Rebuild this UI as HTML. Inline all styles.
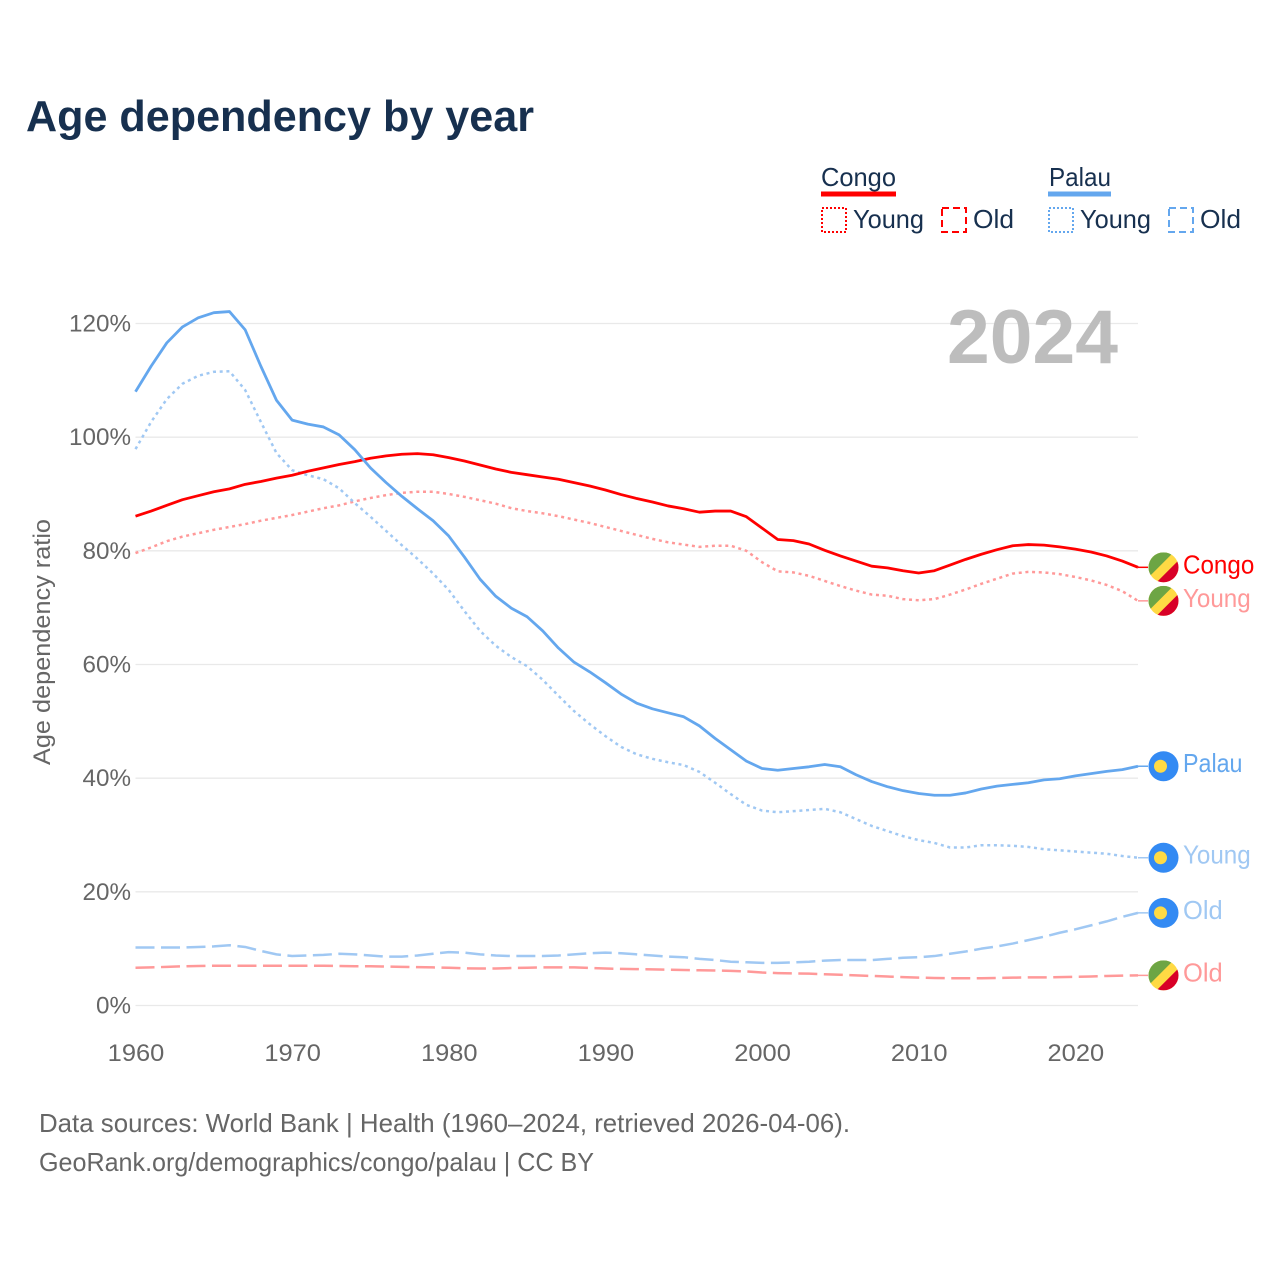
<!DOCTYPE html>
<html lang="en">
<head>
<meta charset="utf-8">
<title>Age dependency by year</title>
<style>
html,body{margin:0;padding:0;background:#fff;width:1280px;height:1280px;overflow:hidden}
svg{display:block}
text{font-family:"Liberation Sans",sans-serif}
</style>
</head>
<body>
<svg id="chart" width="1280" height="1280" viewBox="0 0 1280 1280" xmlns="http://www.w3.org/2000/svg">
  <defs>
    <clipPath id="flag-clip"><circle cx="0" cy="0" r="15"/></clipPath>
  </defs>
  <rect x="0" y="0" width="1280" height="1280" fill="#fff"/>

  <text x="26" y="131" font-size="44" font-weight="700" fill="#17304f" textLength="508" lengthAdjust="spacingAndGlyphs">Age dependency by year</text>

  <g>
    <text x="821" y="186" font-size="26" fill="#17304f" textLength="75" lengthAdjust="spacingAndGlyphs">Congo</text>
    <rect x="821" y="191.500" width="75" height="5" fill="#ff0000"/>
    <rect x="822" y="208" width="24" height="24" fill="none" stroke="#ff0000" stroke-width="2" stroke-dasharray="2 2"/>
    <text x="853" y="228" font-size="26" fill="#17304f" textLength="71" lengthAdjust="spacingAndGlyphs">Young</text>
    <rect x="942" y="208" width="24" height="24" fill="none" stroke="#ff0000" stroke-width="2" stroke-dasharray="7 4"/>
    <text x="973" y="228" font-size="26" fill="#17304f" textLength="41" lengthAdjust="spacingAndGlyphs">Old</text>

    <text x="1049" y="186" font-size="26" fill="#17304f" textLength="62" lengthAdjust="spacingAndGlyphs">Palau</text>
    <rect x="1048" y="191.500" width="63" height="5" fill="#64a7ee"/>
    <rect x="1049" y="208" width="24" height="24" fill="none" stroke="#64a7ee" stroke-width="2" stroke-dasharray="2 2"/>
    <text x="1080" y="228" font-size="26" fill="#17304f" textLength="71" lengthAdjust="spacingAndGlyphs">Young</text>
    <rect x="1169" y="208" width="24" height="24" fill="none" stroke="#64a7ee" stroke-width="2" stroke-dasharray="7 4"/>
    <text x="1200" y="228" font-size="26" fill="#17304f" textLength="41" lengthAdjust="spacingAndGlyphs">Old</text>
  </g>

  <g id="grid"></g>
  <text x="1118" y="363" text-anchor="end" font-size="76" font-weight="700" fill="#bdbdbd" textLength="171" lengthAdjust="spacingAndGlyphs">2024</text>
  <g id="y-axis"></g>
  <g id="x-axis"></g>
  <text transform="translate(50,642) rotate(-90)" text-anchor="middle" font-size="24" fill="#666" textLength="246" lengthAdjust="spacingAndGlyphs">Age dependency ratio</text>
  <g id="series"></g>
  <g id="end-labels"></g>

  <text x="39" y="1132" font-size="26" fill="#666" textLength="811" lengthAdjust="spacingAndGlyphs">Data sources: World Bank | Health (1960–2024, retrieved 2026-04-06).</text>
  <text x="39" y="1171" font-size="26" fill="#666" textLength="555" lengthAdjust="spacingAndGlyphs">GeoRank.org/demographics/congo/palau | CC BY</text>
</svg>

<script>
const years = [1960,1961,1962,1963,1964,1965,1966,1967,1968,1969,1970,1971,1972,1973,1974,1975,1976,1977,1978,1979,1980,1981,1982,1983,1984,1985,1986,1987,1988,1989,1990,1991,1992,1993,1994,1995,1996,1997,1998,1999,2000,2001,2002,2003,2004,2005,2006,2007,2008,2009,2010,2011,2012,2013,2014,2015,2016,2017,2018,2019,2020,2021,2022,2023,2024];
const palauTotal = [108,112.5,116.6,119.4,121,121.9,122.1,118.9,112.5,106.5,103,102.3,101.8,100.4,97.8,94.6,92,89.6,87.4,85.3,82.6,78.9,75,72,69.9,68.4,65.9,62.9,60.4,58.7,56.8,54.8,53.2,52.2,51.5,50.8,49.2,47,45,43,41.7,41.4,41.7,42,42.4,42,40.6,39.4,38.5,37.8,37.3,37,37,37.4,38.1,38.6,38.9,39.2,39.7,39.9,40.4,40.8,41.2,41.5,42.1];
const palauYoung = [97.9,102.7,106.7,109.4,110.8,111.5,111.6,108.3,102.7,97.2,94.2,93.3,92.6,91,88.4,86,83.5,81,78.6,76,73.1,69.4,65.9,63.3,61.3,59.7,57.3,54.5,51.8,49.5,47.4,45.5,44.2,43.4,42.8,42.3,41.1,39.2,37.2,35.3,34.3,34,34.2,34.4,34.6,34,32.8,31.6,30.7,29.8,29.1,28.6,27.8,27.8,28.2,28.2,28.1,27.9,27.5,27.3,27.1,26.9,26.7,26.3,26];
const palauOld = [10.2,10.2,10.2,10.2,10.3,10.4,10.6,10.3,9.6,9,8.7,8.8,8.9,9.1,9,8.8,8.6,8.6,8.8,9.1,9.4,9.3,9,8.8,8.7,8.7,8.7,8.8,9,9.2,9.3,9.2,9,8.8,8.6,8.5,8.2,8,7.7,7.6,7.5,7.5,7.6,7.7,7.9,8,8,8,8.2,8.4,8.5,8.7,9.1,9.5,10,10.4,10.9,11.5,12.1,12.8,13.4,14.1,14.8,15.6,16.3];
const congoTotal = [86.1,87,88,89,89.7,90.4,90.9,91.7,92.2,92.8,93.3,94,94.6,95.2,95.7,96.3,96.7,97,97.1,96.9,96.4,95.8,95.1,94.4,93.8,93.4,93,92.6,92,91.4,90.7,89.9,89.2,88.6,87.9,87.4,86.8,87,87,86,84,82,81.8,81.2,80.1,79.1,78.2,77.3,77,76.5,76.1,76.5,77.5,78.5,79.4,80.2,80.9,81.1,81,80.7,80.3,79.8,79.1,78.2,77.1];
const congoYoung = [79.6,80.6,81.7,82.5,83.1,83.7,84.2,84.7,85.3,85.8,86.3,86.9,87.5,88,88.7,89.3,89.8,90.2,90.4,90.4,90,89.5,88.9,88.3,87.5,87,86.6,86.1,85.5,84.9,84.2,83.5,82.8,82.1,81.5,81.1,80.7,80.9,80.9,80,78,76.4,76.2,75.6,74.7,73.8,73,72.3,72.1,71.5,71.3,71.5,72.3,73.2,74.2,75.1,76,76.3,76.2,75.9,75.4,74.8,74,72.9,71.2];
const congoOld = [6.65,6.7,6.8,6.9,6.95,7,7,7,7,7,7,7,7,6.95,6.9,6.9,6.85,6.8,6.75,6.7,6.65,6.55,6.5,6.5,6.6,6.65,6.7,6.7,6.7,6.6,6.5,6.45,6.4,6.35,6.3,6.25,6.2,6.15,6.1,6,5.8,5.7,5.65,5.6,5.5,5.4,5.3,5.2,5.1,5,4.9,4.85,4.8,4.8,4.8,4.85,4.9,4.95,4.95,5,5.05,5.1,5.2,5.25,5.3];

const yTicks = [0,20,40,60,80,100,120];
const xTicks = [1960,1970,1980,1990,2000,2010,2020];

const svgNS = 'http://www.w3.org/2000/svg';
const xScale = function (yr) { return 135.5 + (yr - 1960) * (1138 - 135.5) / 64; };
const yScale = function (v) { return 1005.5 - v * (1005.5 - 323.5) / 120; };

function make(tag, attrs, parent, text) {
  const el = document.createElementNS(svgNS, tag);
  Object.keys(attrs).forEach(function (k) { el.setAttribute(k, attrs[k]); });
  if (text !== undefined) el.textContent = text;
  parent.appendChild(el);
  return el;
}

/* Adjust widths so Liberation Sans occupies the same run length as the reference face */
function stretch(el, factor) {
  const w = el.getComputedTextLength();
  el.setAttribute('textLength', (w * factor).toFixed(1));
  el.setAttribute('lengthAdjust', 'spacingAndGlyphs');
}

const gridG = document.getElementById('grid');
const yAxisG = document.getElementById('y-axis');
yTicks.forEach(function (t) {
  const line = make('line', {x1: 135.5, x2: 1138, y1: yScale(t), y2: yScale(t), stroke: '#e9e9e9', 'stroke-width': 1.300}, gridG);
  
  
  const label = make('text', {x: 131, y: yScale(t) + 8, 'text-anchor': 'end', 'font-size': 24, fill: '#666'}, yAxisG, t + '%');
  
  
  stretch(label, 1.010);
});

const xAxisG = document.getElementById('x-axis');
xTicks.forEach(function (t) {
  const label = make('text', {x: xScale(t) + 0.500, y: 1061, 'text-anchor': 'middle', 'font-size': 24, fill: '#666'}, xAxisG, String(t));
  
  
  stretch(label, 1.060);
});

const seriesG = document.getElementById('series');
const labelsG = document.getElementById('end-labels');

const DOTTED = '3 3.700';
const DASHED = '19 6.500';

function drawLine(values, color, dash, width, name) {
  const d = values.map(function (v, i) {
    return (i ? 'L' : 'M') + xScale(years[i]).toFixed(2) + ' ' + yScale(v).toFixed(2);
  }).join('');
  const attrs = {d: d, fill: 'none', stroke: color, 'stroke-width': width, 'stroke-linejoin': 'round'};
  if (dash) attrs['stroke-dasharray'] = dash;
  const p = make('path', attrs, seriesG);
  
  
  return p;
}

function congoFlag(g) {
  const clip = make('g', {'clip-path': 'url(#flag-clip)'}, g);
  make('rect', {x: -15, y: -15, width: 30, height: 30, fill: '#ffda44'}, clip);
  make('path', {d: 'M-15 -15 L10 -15 L-15 10 Z', fill: '#6da544'}, clip);
  make('path', {d: 'M15 15 L15 -7 L-7 15 Z', fill: '#d80027'}, clip);
}

function palauFlag(g) {
  make('circle', {cx: 0, cy: 0, r: 15, fill: '#338af3'}, g);
  make('circle', {cx: -3, cy: 0, r: 6.500, fill: '#ffda44'}, g);
}

function drawEnd(values, color, word, fit, flag, name) {
  const last = yScale(values[values.length - 1]);
  const x0 = xScale(years[years.length - 1]);
  const lead = make('line', {x1: x0, x2: 1148, y1: last, y2: last, stroke: color, 'stroke-width': 1.500}, labelsG);
  
  
  const g = make('g', {transform: 'translate(1163.500,' + last.toFixed(2) + ')'}, labelsG);
  
  
  flag(g);
  const label = make('text', {x: 1183, y: last + 6, 'font-size': 26, fill: color}, labelsG, word);
  
  
  stretch(label, fit);
}

const RED = '#ff0000';
const RED_SOFT = '#ff9999';
const BLUE = '#64a7ee';
const BLUE_SOFT = '#a0c8f3';

drawLine(congoOld, RED_SOFT, DASHED, 2.500, 'congo-old-line');
drawLine(palauOld, BLUE_SOFT, DASHED, 2.500, 'palau-old-line');
drawLine(congoYoung, RED_SOFT, DOTTED, 2.500, 'congo-young-line');
drawLine(palauYoung, BLUE_SOFT, DOTTED, 2.500, 'palau-young-line');
drawLine(congoTotal, RED, null, 2.800, 'congo-total-line');
drawLine(palauTotal, BLUE, null, 2.800, 'palau-total-line');

drawEnd(congoTotal, RED, 'Congo', 0.930, congoFlag, 'congo-total');
drawEnd(congoYoung, RED_SOFT, 'Young', 0.930, congoFlag, 'congo-young');
drawEnd(palauTotal, BLUE, 'Palau', 0.895, palauFlag, 'palau-total');
drawEnd(palauYoung, BLUE_SOFT, 'Young', 0.930, palauFlag, 'palau-young');
drawEnd(palauOld, BLUE_SOFT, 'Old', 0.980, palauFlag, 'palau-old');
drawEnd(congoOld, RED_SOFT, 'Old', 0.980, congoFlag, 'congo-old');
</script>
</body>
</html>
